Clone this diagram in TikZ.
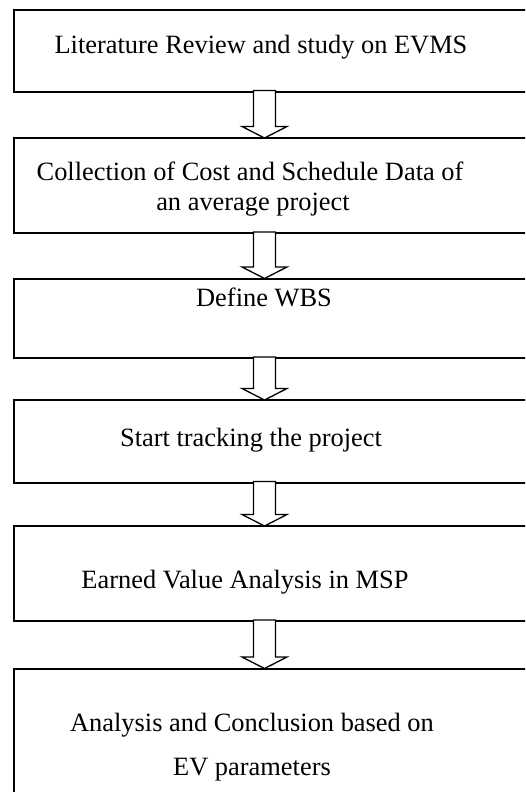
\documentclass[tikz,border=0pt]{standalone}
\usepackage{fontspec}
\setmainfont{Liberation Serif}
\usetikzlibrary{calc}
\tikzset{
  boxst/.style={draw=black, line width=2pt, rectangle, inner sep=0pt, outer sep=0pt,
    anchor=north west, minimum width=540pt},
  txt/.style={anchor=base, inner sep=0pt, font=\fontsize{26.4}{30}\selectfont},
  blk/.style={draw=black, line width=1.3pt, fill=white, line join=miter}
}
\newcommand{\blockarrow}[2]{%
  \draw[blk] ($(#1.south -| ax)+(-11,-1)$) -- ($(#2.north -| ax)+(-11,-11.5)$)
    -- ($(#2.north -| ax)+(-22.5,-11.5)$) -- (#2.north -| ax)
    -- ($(#2.north -| ax)+(22.5,-11.5)$) -- ($(#2.north -| ax)+(11,-11.5)$)
    -- ($(#1.south -| ax)+(11,-1)$) -- cycle;}
\begin{document}
\begin{tikzpicture}[x=1pt,y=-1pt]
\useasboundingbox (0,0) rectangle (525,792);
\clip (0,0) rectangle (525,792);
\fill[white] (0,0) rectangle (525,792);
\coordinate (ax) at (264.5,0);
% boxes
\node[boxst, minimum height=81pt]  (b1) at (14,10.5) {};
\node[boxst, minimum height=95pt]  (b2) at (14,138) {};
\node[boxst, minimum height=79.5pt](b3) at (14,278.5) {};
\node[boxst, minimum height=82.5pt](b4) at (14,400) {};
\node[boxst, minimum height=95pt]  (b5) at (14,526) {};
\node[boxst, minimum height=140pt] (b6) at (14,668.5) {};
% texts
\node[txt] (t1)  at (261,54)  {Literature Review and study on EVMS};
\node[txt] (t2)  at (250,180) {Collection of Cost and Schedule Data of};
\node[txt] (t2b) at (253,210) {an average project};
\node[txt] (t3)  at (264,306) {Define WBS};
\node[txt] (t4)  at (251,446.5) {Start tracking the project};
\node[txt] (t5)  at (245,588) {Earned Value Analysis in MSP};
\node[txt] (t6)  at (252,731.5) {Analysis and Conclusion based on};
\node[txt] (t6b) at (252,775) {EV parameters};
% arrows
\blockarrow{b1}{b2}
\blockarrow{b2}{b3}
\blockarrow{b3}{b4}
\blockarrow{b4}{b5}
\blockarrow{b5}{b6}
\end{tikzpicture}
\end{document}
